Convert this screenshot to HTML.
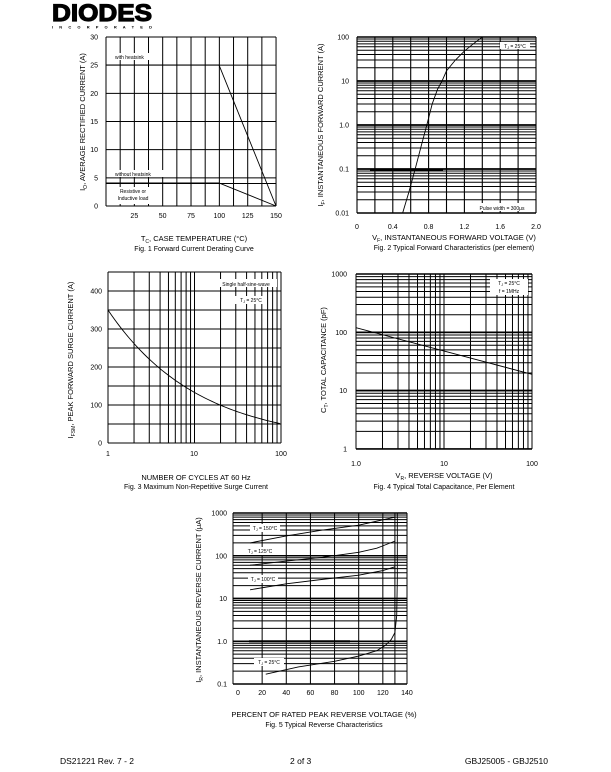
<!DOCTYPE html>
<html><head><meta charset="utf-8"><style>
html,body{margin:0;padding:0;background:#fff;}
svg{display:block;font-family:"Liberation Sans",Arial,sans-serif;}
</style></head><body>
<svg id="s" width="611" height="772" viewBox="0 0 611 772" xmlns="http://www.w3.org/2000/svg">
<text x="52" y="21" font-size="24" font-weight="900" textLength="100" lengthAdjust="spacingAndGlyphs" fill="#000" stroke="#000" stroke-width="1.2">DIODES</text>
<text x="52" y="28.5" font-size="4" font-weight="bold" textLength="100" lengthAdjust="spacing">I N C O R P O R A T E D</text>
<g id="g" stroke="#000" fill="none"></g>
<g font-size="7" fill="#000" id="t"></g>
<text x="60" y="764" font-size="8.5">DS21221 Rev. 7 - 2</text>
<text x="290" y="764" font-size="8.5">2 of 3</text>
<text x="548" y="764" font-size="8.5" text-anchor="end">GBJ25005 - GBJ2510</text>
</svg>
<script>
const g=document.getElementById('g'),t=document.getElementById('t');
function L(x1,y1,x2,y2,w){g.insertAdjacentHTML('beforeend',`<line x1="${x1}" y1="${y1}" x2="${x2}" y2="${y2}" stroke-width="${w||1}"/>`);}
function T(x,y,s,a,sz,rot){t.insertAdjacentHTML('beforeend',`<text x="${x}" y="${y}" text-anchor="${a||'middle'}" ${sz?'font-size="'+sz+'"':''} ${rot?`transform="rotate(-90 ${x} ${y})"`:''}>${s}</text>`);}
function P(pts,w){g.insertAdjacentHTML('beforeend',`<polyline points="${pts.map(p=>p.join(',')).join(' ')}" stroke-width="${w||0.9}"/>`);}
function box(x,y,w,h){g.insertAdjacentHTML('beforeend',`<rect x="${x}" y="${y}" width="${w}" height="${h}" fill="#fff" stroke="none"/>`);}
function logY(x0,x1,yTop,dec,n){for(let d=0;d<n;d++){for(let k=1;k<=10;k++){let y=yTop+(n-d)*dec-Math.log10(k)*dec;L(x0,y,x1,y,k==1||k==10?1.6:1);}}}
function logX(y0,y1,x0,dec,n){for(let d=0;d<n;d++){for(let k=1;k<=10;k++){let x=x0+d*dec+Math.log10(k)*dec;L(x,y0,x,y1,1);}}}
// Fig1
{const x0=106,x1=276,y0=37,y1=206;
for(let i=0;i<=12;i++){let x=x0+i*14.17;L(x,y0,x,y1,1);}
for(let v=0;v<=30;v+=5){let y=y1-v*(169/30);L(x0,y,x1,y,1);T(x0-8,y+2.5,v,'end');}
L(x0,y1-4*5.633,x1,y1-4*5.633,1);
box(112,53,45,7);box(112,170,55,7);box(112,187,40,17);
T(115,59,'with heatsink','start',5);T(115,176,'without heatsink','start',5);
T(133,193,'Resistive or','middle',5);T(133,200,'Inductive load','middle',5);
P([[x0,65],[219,65],[276,206]]);P([[x0,183],[219,183],[276,206]]);
[25,50,75,100,125,150].forEach(v=>T(x0+v*170/150,218,v));
T(85,122,'I<tspan font-size="5" dy="2">O</tspan><tspan dy="-2">, AVERAGE RECTIFIED CURRENT (A)</tspan>','middle',7.5,1);
T(194,241,'T<tspan font-size="5" dy="2">C</tspan><tspan dy="-2">, CASE TEMPERATURE (°C)</tspan>','middle',7.5);
T(194,251,'Fig. 1  Forward Current Derating Curve','middle',7);}
// Fig2
{const x0=357,x1=536,yT=37,dec=44;
logY(x0,x1,yT,dec,4);
for(let i=0;i<=10;i++){let x=x0+i*17.9;L(x,yT,x,yT+4*dec,1.1);}
L(370,170,443,170,2);
const vx=v=>x0+v*89.5,iy=i=>yT+(2-Math.log10(i))*dec;
P([[0.51,0.01],[0.58,0.03],[0.65,0.1],[0.72,0.35],[0.78,1],[0.84,3],[0.9,6.5],[0.95,10],[1.0,17],[1.1,30],[1.2,48],[1.3,70],[1.4,100]].map(p=>[vx(p[0]),iy(p[1])]));
box(500,42,30,7);T(515,48,'T<tspan font-size="3.5" dy="1">J</tspan><tspan dy="-1"> = 25°C</tspan>','middle',5);
box(470,203,64,8);T(502,210,'Pulse width = 300μs','middle',5);
[[100,'100'],[10,'10'],[1,'1.0'],[0.1,'0.1'],[0.01,'0.01']].forEach(a=>T(349,iy(a[0])+2.5,a[1],'end'));
[0,0.4,0.8,1.2,1.6,2.0].forEach(v=>T(vx(v),229,v==2?'2.0':v));
T(323,125,'I<tspan font-size="5" dy="2">F</tspan><tspan dy="-2">, INSTANTANEOUS FORWARD CURRENT (A)</tspan>','middle',7.5,1);
T(454,240,'V<tspan font-size="5" dy="2">F</tspan><tspan dy="-2">, INSTANTANEOUS FORWARD VOLTAGE (V)</tspan>','middle',7.5);
T(454,250,'Fig. 2  Typical Forward Characteristics (per element)','middle',7);}
// Fig3
{const x0=108,x1=281,y0=272,y1=443,dec=86.5;
logX(y0,y1,x0,dec,2);
for(let v=0;v<=450;v+=50){let y=y1-v*0.38;L(x0,y,x1,y,1);if(v%100==0)T(x0-6,y+2.5,v,'end');}
box(215,279,62,8);T(246,286,'Single half-sine-wave','middle',5);
box(235,296,32,8);T(251,302,'T<tspan font-size="3.5" dy="1">J</tspan><tspan dy="-1"> = 25°C</tspan>','middle',5);
let pts=[];for(let n=1;n<=100;n*=1.1){pts.push([x0+Math.log10(n)*dec,y1-350*Math.pow(n,-0.42)*0.38]);}
P(pts);
T(x0,456,'1');T(194,456,'10');T(281,456,'100');
T(73,360,'I<tspan font-size="5" dy="2">FSM</tspan><tspan dy="-2">, PEAK FORWARD SURGE CURRENT (A)</tspan>','middle',7.5,1);
T(196,480,'NUMBER OF CYCLES AT 60 Hz','middle',7.5);
T(196,489,'Fig. 3  Maximum Non-Repetitive Surge Current','middle',7);}
// Fig4
{const x0=356,x1=532,yT=274,dec=58.3;
logY(x0,x1,yT,dec,3);logX(yT,yT+3*dec,x0,88,2);
box(490,279,38,16);T(509,285,'T<tspan font-size="3.5" dy="1">J</tspan><tspan dy="-1"> = 25°C</tspan>','middle',5);T(509,293,'f = 1MHz','middle',5);
const cy=c=>yT+(3-Math.log10(c))*dec;
L(x0,cy(120),x1,cy(19),0.9);
[[1000,'1000'],[100,'100'],[10,'10'],[1,'1']].forEach(a=>T(347,cy(a[0])+2.5,a[1],'end'));
T(356,466,'1.0');T(444,466,'10');T(532,466,'100');
T(326,360,'C<tspan font-size="5" dy="2">T</tspan><tspan dy="-2">, TOTAL CAPACITANCE (pF)</tspan>','middle',7.5,1);
T(444,478,'V<tspan font-size="5" dy="2">R</tspan><tspan dy="-2">, REVERSE VOLTAGE (V)</tspan>','middle',7.5);
T(444,489,'Fig. 4  Typical Total Capacitance, Per Element','middle',7);}
// Fig5
{const x0=233,x1=407,yT=513,dec=42.75;
logY(x0,x1,yT,dec,4);
const vx=v=>238+v*1.207,iy=i=>yT+(3-Math.log10(i))*dec;
L(x0,yT,x0,yT+4*dec,1);L(x1,yT,x1,yT+4*dec,1);
for(let v=20;v<=130;v+=(v<120?20:10)){L(vx(v),yT,vx(v),yT+4*dec,1);}
L(249,iy(1),350,iy(1),2);
[[[10,200],[40,290],[70,400],[100,520],[130,800]],
 [[10,60],[40,75],[70,92],[100,120],[115,150],[130,220]],
 [[10,16],[40,22],[70,28],[100,35],[120,45],[130,55]],
 [[23,0.17],[50,0.25],[80,0.34],[100,0.45],[115,0.6],[122,0.8],[127,1.1],[130,1.6],[131.5,4],[132,30],[132,1000]]].forEach(c=>P(c.map(p=>[vx(p[0]),iy(p[1])])));
[[150,[250,530]],[125,[245,553]],[100,[248,581]],[25,[254,664]]].forEach(a=>{box(a[1][0],a[1][1]-6,30,8);T(a[1][0]+15,a[1][1],'T<tspan font-size="3.5" dy="1">J</tspan><tspan dy="-1"> = '+a[0]+'°C</tspan>','middle',5);});
[[1000,'1000'],[100,'100'],[10,'10'],[1,'1.0'],[0.1,'0.1']].forEach(a=>T(227,iy(a[0])+2.5,a[1],'end'));
for(let v=0;v<=140;v+=20)T(vx(v),695,v);
T(201,600,'I<tspan font-size="5" dy="2">R</tspan><tspan dy="-2">, INSTANTANEOUS REVERSE CURRENT (μA)</tspan>','middle',7.5,1);
T(324,717,'PERCENT OF RATED PEAK REVERSE VOLTAGE (%)','middle',7.5);
T(324,727,'Fig. 5  Typical Reverse Characteristics','middle',7);}
</script>
</body></html>
